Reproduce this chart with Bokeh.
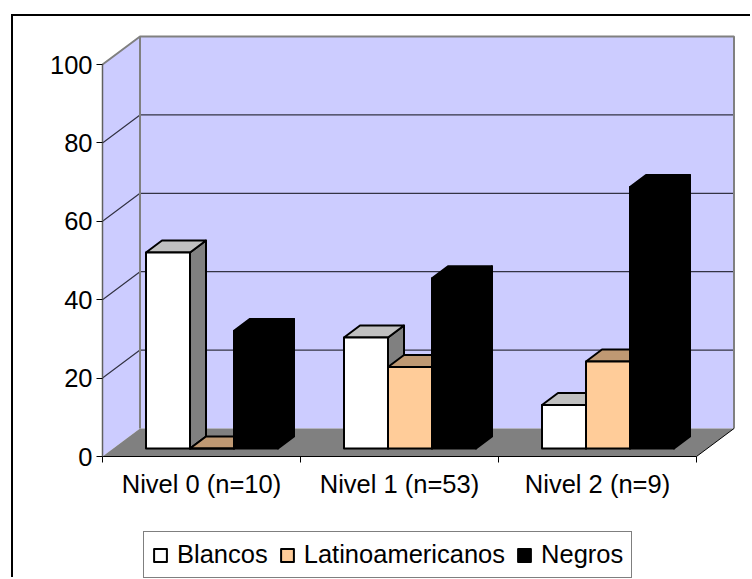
from bokeh.embed import file_html
from bokeh.resources import INLINE
from bokeh.plotting import figure
from bokeh.models import (ColumnDataSource, Range1d, FixedTicker, Legend, LegendItem)

categories = ["Nivel 0 (n=10)", "Nivel 1 (n=53)", "Nivel 2 (n=9)"]
blancos = [50.0, 28.3, 11.1]
latinos = [0.0, 20.8, 22.2]
negros = [30.0, 43.4, 66.7]
y_ticks = [0, 20, 40, 60, 80, 100]

FONT = "Liberation Sans"
FS = "25.5px"
PX_X, PX_Y = 198.0, 3.92       # pixels per category, per y unit
WALL_DX, WALL_DY = 37.5 / PX_X, 28 / PX_Y
BAR_W = 44 / PX_X
BASE_X, BASE_Y = 43.5 / PX_X, 8 / PX_Y
DEP_X, DEP_Y = 16 / PX_X, 12 / PX_Y
N = len(categories)

p = figure(width=739, height=563, output_backend="svg", toolbar_location=None,
           x_range=Range1d(-89 / PX_X, 650 / PX_X), y_range=Range1d(-123 / PX_Y, 440 / PX_Y),
           min_border=0,
           outline_line_color=None, background_fill_color="white", border_fill_color="white",
           margin=(14, 0, 0, 11),
           styles={"border-top": "2px solid #000000", "border-left": "2px solid #000000"})
p.grid.visible = False

# walls and floor
xb, yb = N + WALL_DX, 100 + WALL_DY
p.patch([0, WALL_DX, WALL_DX, 0], [0, WALL_DY, yb, 100], fill_color="#CCCCFF", line_color=None)
p.patch([WALL_DX, xb, xb, WALL_DX], [WALL_DY, WALL_DY, yb, yb], fill_color="#CCCCFF", line_color=None)
gv = [v for v in y_ticks if 0 < v < 100]
p.multi_line([[0, WALL_DX, xb] for v in gv], [[v, v + WALL_DY, v + WALL_DY] for v in gv],
             line_color="#333344", line_width=1.2)
p.line([0, WALL_DX, xb, xb], [100, yb, yb, WALL_DY], line_color="#808080", line_width=2)
p.line([WALL_DX, WALL_DX], [WALL_DY, yb], line_color="#808080", line_width=2)
p.patch([0, N, xb, WALL_DX], [0, 0, WALL_DY, WALL_DY], fill_color="#808080", line_color=None)
p.line([N, xb], [0, WALL_DY], line_color="#000000", line_width=1)

# bars
series = [("Blancos", blancos, "#FFFFFF", "#C0C0C0", "#808080"),
          ("Latinoamericanos", latinos, "#FFCC99", "#BF9973", "#BF9973"),
          ("Negros", negros, "#000000", "#000000", "#000000")]
items = []
for s, (name, vals, front, top, side) in enumerate(series):
    fx, fy, tx, ty, sx, sy = [], [], [], [], [], []
    for c, v in enumerate(vals):
        x0 = c + BASE_X + s * BAR_W
        x1 = x0 + BAR_W
        y0 = BASE_Y
        y1 = BASE_Y + v
        fx.append([x0, x1, x1, x0]); fy.append([y0, y0, y1, y1])
        tx.append([x0, x1, x1 + DEP_X, x0 + DEP_X]); ty.append([y1, y1, y1 + DEP_Y, y1 + DEP_Y])
        sx.append([x1, x1 + DEP_X, x1 + DEP_X, x1]); sy.append([y0, y0 + DEP_Y, y1 + DEP_Y, y1])
    p.patches(sx, sy, fill_color=side, line_color="#000000", line_width=2, line_join="round")
    p.patches(tx, ty, fill_color=top, line_color="#000000", line_width=2, line_join="round")
    src = ColumnDataSource(dict(xs=fx, ys=fy))
    r = p.patches("xs", "ys", source=src, fill_color=front, line_color="#000000", line_width=2, line_join="round")
    items.append(LegendItem(label=name, renderers=[r]))

# axes
ya = p.yaxis[0]
ya.fixed_location = 0
ya.ticker = FixedTicker(ticks=y_ticks)
ya.bounds = (0, 100)
ya.axis_line_color = "#606060"
ya.axis_line_width = 1.5
ya.major_tick_in = 0
ya.major_tick_out = 6
ya.major_tick_line_color = "#000000"
ya.minor_tick_line_color = None
ya.major_label_text_font = FONT
ya.major_label_text_font_size = FS
ya.major_label_text_color = "#000000"
ya.major_label_standoff = 4

xa = p.xaxis[0]
xa.fixed_location = 0
mids = [c + 0.5 for c in range(N)]
xa.ticker = FixedTicker(ticks=mids, minor_ticks=list(range(N + 1)))
xa.bounds = (0, N)
xa.major_label_overrides = {m: c for m, c in zip(mids, categories)}
xa.axis_line_color = "#000000"
xa.axis_line_width = 1
xa.major_tick_line_color = None
xa.major_tick_in = 0
xa.major_tick_out = 0
xa.minor_tick_in = 0
xa.minor_tick_out = 6
xa.minor_tick_line_color = "#000000"
xa.major_label_text_font = FONT
xa.major_label_text_font_size = FS
xa.major_label_text_color = "#000000"
xa.major_label_standoff = 7

legend = Legend(items=items, orientation="horizontal", location=(130, 1),
                padding=8, margin=0, spacing=11, glyph_width=16, glyph_height=16,
                label_standoff=9, label_text_font=FONT, label_text_font_size=FS,
                label_text_color="#000000", label_height=26,
                border_line_color="#000000", border_line_width=1,
                background_fill_color="white", background_fill_alpha=1)
p.add_layout(legend, "center")

open("out.html", "w").write(file_html(p, INLINE))
